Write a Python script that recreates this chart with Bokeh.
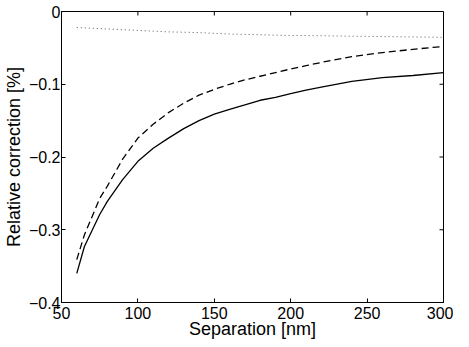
import math
from bokeh.plotting import figure
from bokeh.models import FixedTicker, Range1d
from bokeh.embed import file_html
from bokeh.resources import INLINE

separation = [60, 65, 70, 75, 80, 90, 100, 110, 120, 130, 140, 150, 160, 170,
              180, 190, 200, 210, 220, 240, 260, 280, 300]
solid = [-0.360, -0.323, -0.301, -0.279, -0.261, -0.231, -0.206, -0.188, -0.174,
         -0.161, -0.150, -0.141, -0.1345, -0.1285, -0.122, -0.118, -0.113, -0.108,
         -0.104, -0.096, -0.091, -0.088, -0.084]
dashed = [-0.341, -0.307, -0.282, -0.257, -0.240, -0.203, -0.174, -0.155, -0.139,
          -0.126, -0.115, -0.107, -0.100, -0.094, -0.089, -0.084, -0.079, -0.0745,
          -0.070, -0.062, -0.0565, -0.052, -0.048]
dotted = [-0.022, -0.0225, -0.023, -0.0235, -0.024, -0.025, -0.026, -0.027, -0.028,
          -0.0285, -0.029, -0.030, -0.031, -0.0315, -0.032, -0.0325, -0.033, -0.033,
          -0.0333, -0.034, -0.0345, -0.035, -0.0355]
x_ticks = [50, 100, 150, 200, 250, 300]
y_ticks = [-0.4, -0.3, -0.2, -0.1, 0]
y_labels = {-0.4: "\u22120.4", -0.3: "\u22120.3", -0.2: "\u22120.2", -0.1: "\u22120.1", 0: "0"}
x_title = "Separation [nm]"
y_title = "Relative correction [%]"

FONT = "Liberation Sans"
x0, x1 = x_ticks[0], x_ticks[-1]
y0, y1 = y_ticks[0], y_ticks[-1]

p = figure(width=453, height=341, output_backend="svg", toolbar_location=None,
           x_range=Range1d(x0, x1), y_range=Range1d(y0, y1),
           min_border_left=55, min_border_right=10, min_border_top=11, min_border_bottom=30)
p.background_fill_color = "white"
p.border_fill_color = "white"
p.outline_line_color = "black"
p.outline_line_width = 1
p.grid.visible = False

p.line(separation, solid, line_color="black", line_width=1.3)
p.line(separation, dashed, line_color="black", line_width=1.3, line_dash="7 4")
p.line(separation, dotted, line_color="#555555", line_width=1.0, line_dash="1 3")

# inward ticks on the top and right edges of the box
p.ray(x=x_ticks, y=[y1] * len(x_ticks), length=4, length_units="screen",
      angle=-math.pi / 2, line_color="black", line_width=1)
p.ray(x=[x1] * len(y_ticks), y=y_ticks, length=4, length_units="screen",
      angle=math.pi, line_color="black", line_width=1)

for ax in [p.xaxis[0], p.yaxis[0]]:
    ax.major_tick_in = 4
    ax.major_tick_out = 0
    ax.minor_tick_in = 0
    ax.minor_tick_out = 0
    ax.axis_line_color = "black"
    ax.major_tick_line_color = "black"
    ax.major_label_text_font = FONT
    ax.major_label_text_font_size = "16px"
    ax.major_label_text_color = "black"
    ax.axis_label_text_font = FONT
    ax.axis_label_text_font_size = "18px"
    ax.axis_label_text_font_style = "normal"
    ax.axis_label_text_color = "black"

p.xaxis.ticker = FixedTicker(ticks=x_ticks)
p.yaxis.ticker = FixedTicker(ticks=y_ticks)
p.yaxis.major_label_overrides = y_labels
p.xaxis.axis_label = x_title
p.yaxis.axis_label = y_title
p.xaxis.major_label_standoff = 4
p.xaxis.axis_label_standoff = -3
p.yaxis.major_label_standoff = 1
p.yaxis.axis_label_standoff = 2

open("out.html", "w").write(file_html(p, INLINE))
